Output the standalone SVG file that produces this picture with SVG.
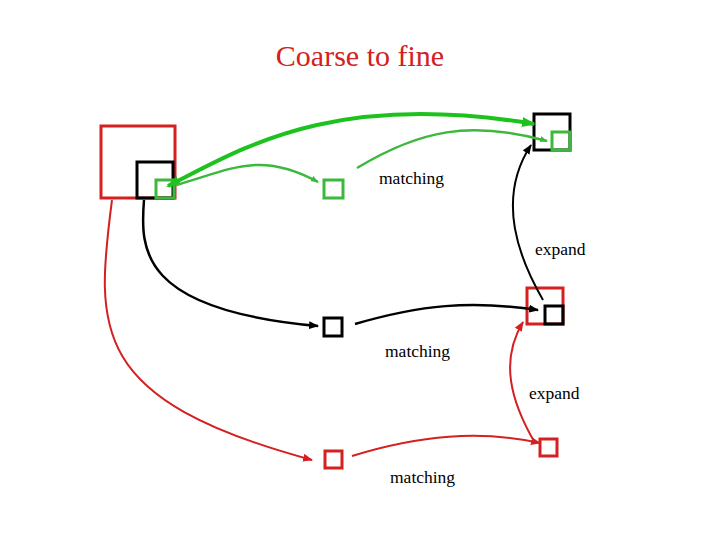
<svg xmlns="http://www.w3.org/2000/svg" width="720" height="540" viewBox="0 0 720 540">
<defs>
<marker id="ag" markerWidth="8" markerHeight="6" refX="7" refY="3" orient="auto" markerUnits="userSpaceOnUse"><path d="M0,0 L8,3 L0,6 z" fill="#3cb83c"/></marker>
<marker id="agt" markerWidth="14" markerHeight="10" refX="12" refY="5" orient="auto-start-reverse" markerUnits="userSpaceOnUse"><path d="M0,0 L14,5 L0,10 z" fill="#1ec21e"/></marker>
<marker id="ak" markerWidth="10" markerHeight="8" refX="9" refY="4" orient="auto" markerUnits="userSpaceOnUse"><path d="M0,0 L10,4 L0,8 z" fill="#000"/></marker>
<marker id="ar" markerWidth="10" markerHeight="8" refX="9" refY="4" orient="auto" markerUnits="userSpaceOnUse"><path d="M0,0 L10,4 L0,8 z" fill="#d42020"/></marker>
</defs>
<style>
.t{font-family:"Liberation Serif",serif;font-size:17.5px;fill:#000}
.r{fill:none;stroke:#d42020;stroke-width:3}
.k{fill:none;stroke:#000;stroke-width:3}
.g{fill:none;stroke:#3cb83c;stroke-width:3}
</style>
<rect width="720" height="540" fill="#fff"/>
<text x="360" y="66" text-anchor="middle" style="font-family:'Liberation Serif',serif;font-size:30px;fill:#d42020">Coarse to fine</text>
<g id="n1"><rect class="r" x="101" y="126" width="74" height="72"/><rect class="k" x="137" y="162" width="36" height="36"/><rect class="g" x="156" y="180" width="18" height="18"/></g>
<g id="n2"><rect class="g" x="324" y="180" width="19" height="18"/></g>
<g id="n3"><rect class="k" x="534" y="114" width="36" height="36"/><rect class="g" x="552" y="132" width="18" height="18"/></g>
<g id="n4"><rect class="k" x="324" y="318" width="18" height="18"/></g>
<g id="n5"><rect class="r" x="527" y="288" width="36" height="36"/><rect class="k" x="545" y="306" width="18" height="18"/></g>
<g id="n6"><rect class="r" x="325" y="451" width="17" height="17"/></g>
<g id="n7"><rect class="r" x="540" y="439" width="17" height="17"/></g>
<g id="connectors">
<path d="M168,186 C240,150 330,90 534,124" fill="none" stroke="#1ec21e" stroke-width="4" marker-start="url(#agt)" marker-end="url(#agt)"/>
<path d="M176,185 C230,170 260,150 318,182" fill="none" stroke="#3cb83c" stroke-width="2.5" marker-end="url(#ag)"/>
<path d="M357,168 C420,130 470,120 547,141" fill="none" stroke="#3cb83c" stroke-width="2.5" marker-end="url(#ag)"/>
<path d="M543,300 C520,260 495,200 531,145" fill="none" stroke="#000" stroke-width="2" marker-end="url(#ak)"/>
<path d="M144,200 C140,250 140,310 318,326" fill="none" stroke="#000" stroke-width="2.5" marker-end="url(#ak)"/>
<path d="M355,324 C420,305 470,300 538,310" fill="none" stroke="#000" stroke-width="2.5" marker-end="url(#ak)"/>
<path d="M112,200 C95,330 90,400 312,460" fill="none" stroke="#d42020" stroke-width="2" marker-end="url(#ar)"/>
<path d="M352,456 C420,435 480,430 540,443" fill="none" stroke="#d42020" stroke-width="2" marker-end="url(#ar)"/>
<path d="M535,443 C510,400 500,360 523,322" fill="none" stroke="#d42020" stroke-width="2" marker-end="url(#ar)"/>
</g>
<text class="t" x="379" y="184">matching</text>
<text class="t" x="535" y="255">expand</text>
<text class="t" x="385" y="357">matching</text>
<text class="t" x="529" y="399">expand</text>
<text class="t" x="390" y="483">matching</text>
</svg>
